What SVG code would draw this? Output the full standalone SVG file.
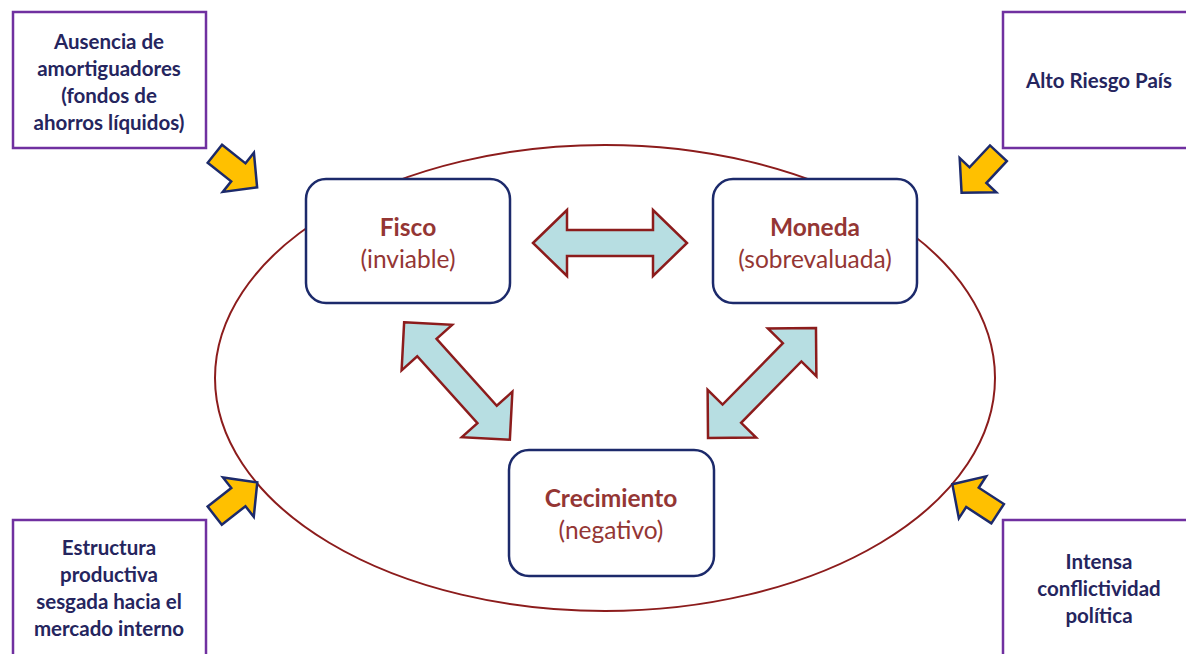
<svg xmlns="http://www.w3.org/2000/svg" width="1186" height="654" viewBox="0 0 1186 654">
<style>
.ext{fill:#fff;stroke:#7030A0;stroke-width:2.5}
.ext-t{font-family:Lato,"Liberation Sans",sans-serif;font-weight:bold;font-size:20.5px;fill:#25255E;text-anchor:middle}
.core{fill:#fff;stroke:#1C2A6B;stroke-width:2.5}
.core-t{font-family:Lato,"Liberation Sans",sans-serif;font-size:24.5px;fill:#943634;text-anchor:middle}
.b{font-weight:bold}
.dbl{fill:#B7DEE2;stroke:#8C1C1C;stroke-width:2.5;stroke-linejoin:miter}
.yel{fill:#FFC000;stroke:#1C2A6B;stroke-width:2.5;stroke-linejoin:miter}
</style>
<defs>
<path id="yarrow" d="M -27 -11.5 L 3 -11.5 L 3 -25 L 27 0 L 3 25 L 3 11.5 L -27 11.5 Z"/>
</defs>
<rect width="1186" height="654" fill="#fff"/>
<ellipse cx="605" cy="378" rx="390" ry="233" fill="none" stroke="#8C1C1C" stroke-width="2"/>

<g id="connectors">
<path class="dbl" transform="translate(610,243)" d="M -77 0 L -43 -33 L -43 -13 L 43 -13 L 43 -33 L 77 0 L 43 33 L 43 13 L -43 13 L -43 33 Z"/>
<path class="dbl" transform="translate(457,381) rotate(48)" d="M -79 0 L -45 -34 L -45 -13 L 45 -13 L 45 -34 L 79 0 L 45 34 L 45 13 L -45 13 L -45 34 Z"/>
<path class="dbl" transform="translate(762,383) rotate(-45.5)" d="M -77 0 L -43 -34 L -43 -13 L 43 -13 L 43 -34 L 77 0 L 43 34 L 43 13 L -43 13 L -43 34 Z"/>
<use href="#yarrow" class="yel" transform="translate(236,170.5) rotate(38.5)"/>
<use href="#yarrow" class="yel" transform="translate(980,173) rotate(133)"/>
<use href="#yarrow" class="yel" transform="translate(236,499) rotate(-38)"/>
<use href="#yarrow" class="yel" transform="translate(975,499) rotate(-147)"/>
</g>

<g id="ausencia">
<rect class="ext" x="13" y="12" width="193" height="136"/>
<text class="ext-t" x="109" y="49">Ausencia de</text>
<text class="ext-t" x="109" y="76">amortiguadores</text>
<text class="ext-t" x="109" y="103">(fondos de</text>
<text class="ext-t" x="109" y="130">ahorros líquidos)</text>
</g>
<g id="riesgo">
<rect class="ext" x="1003" y="12" width="200" height="136"/>
<text class="ext-t" x="1099" y="88">Alto Riesgo País</text>
</g>
<g id="estructura">
<rect class="ext" x="13" y="520" width="193" height="150"/>
<text class="ext-t" x="109" y="555">Estructura</text>
<text class="ext-t" x="109" y="582">productiva</text>
<text class="ext-t" x="109" y="609">sesgada hacia el</text>
<text class="ext-t" x="109" y="636">mercado interno</text>
</g>
<g id="conflictividad">
<rect class="ext" x="1003" y="520" width="200" height="150"/>
<text class="ext-t" x="1099" y="569">Intensa</text>
<text class="ext-t" x="1099" y="596">conflictividad</text>
<text class="ext-t" x="1099" y="623">política</text>
</g>

<g id="fisco">
<rect class="core" x="306" y="179" width="204" height="124" rx="20"/>
<text class="core-t b" x="408" y="236">Fisco</text>
<text class="core-t" x="408" y="268">(inviable)</text>
</g>
<g id="moneda">
<rect class="core" x="713" y="179" width="204" height="124" rx="20"/>
<text class="core-t b" x="815" y="236">Moneda</text>
<text class="core-t" x="815" y="268">(sobrevaluada)</text>
</g>
<g id="crecimiento">
<rect class="core" x="509" y="450" width="205" height="126" rx="20"/>
<text class="core-t b" x="611" y="507">Crecimiento</text>
<text class="core-t" x="611" y="539">(negativo)</text>
</g>
</svg>
